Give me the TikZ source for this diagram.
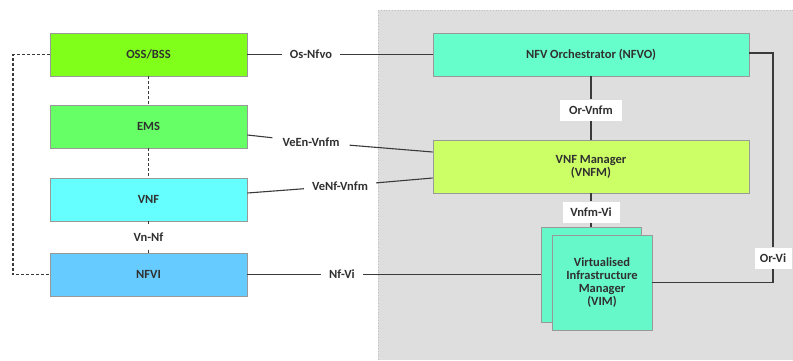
\documentclass[tikz,border=0pt]{standalone}
\usepackage{fontspec}
\setmainfont{Carlito}
\usetikzlibrary{calc}
\definecolor{bgray}{HTML}{DEDEDE}
\definecolor{txt}{HTML}{303030}
\definecolor{linec}{HTML}{3A3A3A}
\definecolor{cOSS}{HTML}{80FF1A}
\definecolor{cEMS}{HTML}{66FF66}
\definecolor{cVNF}{HTML}{66FFFF}
\definecolor{cNFVI}{HTML}{66CCFF}
\definecolor{cNFVO}{HTML}{66FFCC}
\definecolor{cVNFM}{HTML}{CCFF66}
\definecolor{cVIM}{HTML}{66F8C8}
\tikzset{
  txtfont/.style={font=\bfseries\fontsize{12.5}{13}\selectfont, text=txt},
  box/.style={txtfont, draw=black!40, line width=0.7pt, minimum width=197pt, minimum height=43pt, inner sep=0pt, align=center},
  lbl/.style={txtfont, inner xsep=8pt, inner ysep=3pt},
  wlbl/.style={txtfont, fill=white, inner sep=0pt, minimum height=21pt},
  conn/.style={draw=linec, line width=1.1pt},
  dsh/.style={draw=linec, line width=1.2pt, dash pattern=on 3pt off 2pt}
}
\begin{document}
\begin{tikzpicture}[x=1pt,y=-1pt]
\useasboundingbox (0,0) rectangle (793,360);
\fill[bgray] (378,10) rectangle (793,360);
\draw[black!25, dotted, line width=0.8pt] (378,360) -- (378,10) -- (793,10);

% left column
\node[box, fill=cOSS] (oss) at (148.5,54.5) {OSS/BSS};
\node[box, fill=cEMS] (ems) at (148.5,126.5) {EMS};
\node[box, fill=cVNF] (vnf) at (148.5,199.5) {VNF};
\node[box, fill=cNFVI] (nfvi) at (148.5,274.5) {NFVI};

% right column
\node[box, fill=cNFVO, minimum width=316pt] (nfvo) at (591,54.5) {NFV Orchestrator (NFVO)};
\node[box, fill=cVNFM, minimum width=316pt, minimum height=53pt] (vnfm) at (591,166.5) {VNF Manager\\(VNFM)};
\node[box, fill=cVIM, minimum width=100pt, minimum height=95pt] (vimb) at (591,274.5) {};
\node[box, fill=cVIM, minimum width=100pt, minimum height=95pt] (vim) at (602,282.5) {Virtualised\\Infrastructure\\Manager\\(VIM)};

% labels
\node[lbl] (osnfvo) at (311,54.5) {Os-Nfvo};
\node[lbl, inner xsep=10pt] (veen) at (311,142) {VeEn-Vnfm};
\node[lbl] (venf) at (340,186) {VeNf-Vnfm};
\node[lbl, inner ysep=8pt] (vnnf) at (148.5,237) {Vn-Nf};
\node[lbl] (nfvil) at (342,274.5) {Nf-Vi};
\node[wlbl, minimum width=62pt] (orvnfm) at (591,110) {Or-Vnfm};
\node[wlbl, minimum width=57pt] (vnfmvi) at (591,212) {Vnfm-Vi};
\node[wlbl, minimum width=37pt] (orvi) at (773,258) {Or-Vi};

% coordinates
\coordinate (lt) at (13,54.5);
\coordinate (lb) at (13,274.5);

% solid connectors
\draw[conn] (oss) -- (osnfvo) -- (nfvo);
\draw[conn] ([yshift=-8.5pt]ems.east) -- (veen) -- ([yshift=14.5pt]vnfm.west);
\draw[conn] ([yshift=6.5pt]vnf.east) -- (venf) -- ([yshift=-11.5pt]vnfm.west);
\draw[conn] (vnf) -- (vnnf) -- (nfvi);
\draw[conn] (nfvi) -- (nfvil) -- (vimb);
\draw[conn] (nfvo) -- (orvnfm) -- (vnfm);
\draw[conn] (vnfm) -- (vnfmvi) -- (vimb);
\draw[conn] ([yshift=1.5pt]nfvo.east) -| (orvi.north);
\draw[conn] (orvi.south) |- (vim.east);

% dashed connectors
\draw[dsh] (oss) -- (ems);
\draw[dsh] (ems) -- (vnf);
\draw[dsh] (oss.west) -- (lt) -- (lb) -- (nfvi.west);
\end{tikzpicture}
\end{document}
